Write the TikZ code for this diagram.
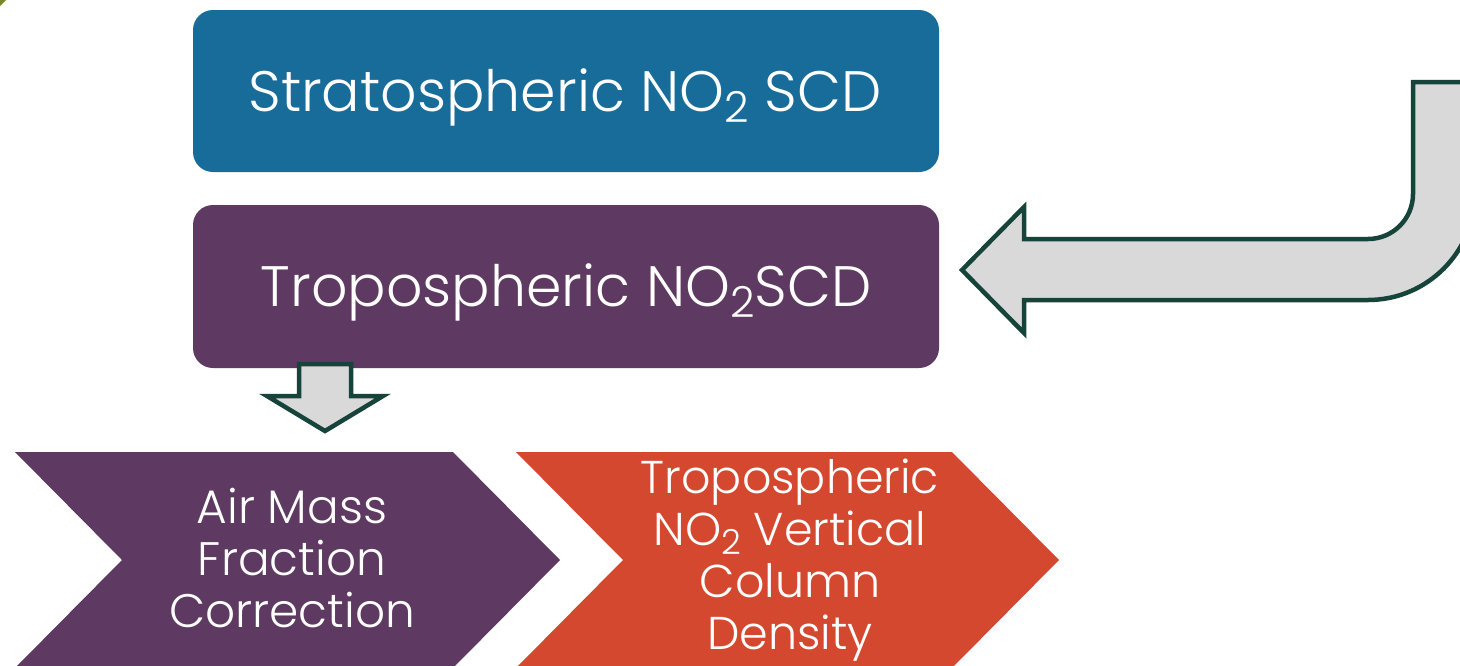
\documentclass[tikz,border=0pt]{standalone}
\usepackage{fontspec}
\setmainfont{Poppins}[UprightFont=* Light]
\definecolor{boxblue}{RGB}{23,108,153}
\definecolor{boxpurple}{RGB}{94,57,97}
\definecolor{boxorange}{RGB}{212,72,47}
\definecolor{arrowfill}{RGB}{217,217,217}
\definecolor{arrowline}{RGB}{22,67,58}
\definecolor{cornergreen}{RGB}{118,137,36}
\newcommand{\subtwo}{\raisebox{-0.2em}{\scalebox{0.75}{2}}}
\tikzset{
  roundbox/.style={rounded corners=20pt},
  blockarrow/.style={fill=arrowfill, draw=arrowline, line width=4.5pt, line join=miter},
  labeltext/.style={text=white, inner sep=0pt},
  bigtext/.style={labeltext, font=\fontsize{57}{60}\selectfont},
  chevtext/.style={labeltext, align=center, font=\fontsize{47}{52}\selectfont},
}
\begin{document}
\begin{tikzpicture}[x=1pt, y=-1pt]
\useasboundingbox (0,0) rectangle (1460,665);
\clip (0,0) rectangle (1460,665);
% corner decoration
\fill[cornergreen] (0,0) -- (6,0) -- (0,6) -- cycle;
% top boxes
\fill[boxblue, roundbox] (193,10) rectangle (939,172);
\fill[boxpurple, roundbox] (193,205) rectangle (939,368);
\node[bigtext, anchor=base] (strat) at (565,111) {Stratospheric NO\subtwo\ SCD};
\node[bigtext, anchor=base] (trop) at (566,306) {Tropospheric NO\subtwo SCD};
% small down arrow
\draw[blockarrow] (299,364) -- (351,364) -- (351,396) -- (383,396) -- (325,431)
  -- (267,396) -- (299,396) -- cycle;
% bent arrow
\draw[blockarrow] (1475,82) -- (1475,193) arc[start angle=0, end angle=90, radius=107]
  -- (1024,300) -- (1024,333) -- (962,270) -- (1024,207) -- (1024,239)
  -- (1368,239) arc[start angle=90, end angle=0, radius=45] -- (1413,82) -- cycle;
% chevrons
\fill[boxpurple] (15,452) -- (453,452) -- (560,560) -- (453,668) -- (15,668) -- (122,560) -- cycle;
\fill[boxorange] (516,452) -- (952,452) -- (1059,560) -- (952,668) -- (516,668) -- (623,560) -- cycle;
\node[chevtext] (amf) at (292,558) {Air Mass\\Fraction\\Correction};
\node[chevtext, font=\fontsize{46}{52}\selectfont] (vcd) at (790,560) {Tropospheric\\NO\subtwo\ Vertical\\Column\\Density};
\end{tikzpicture}
\end{document}
